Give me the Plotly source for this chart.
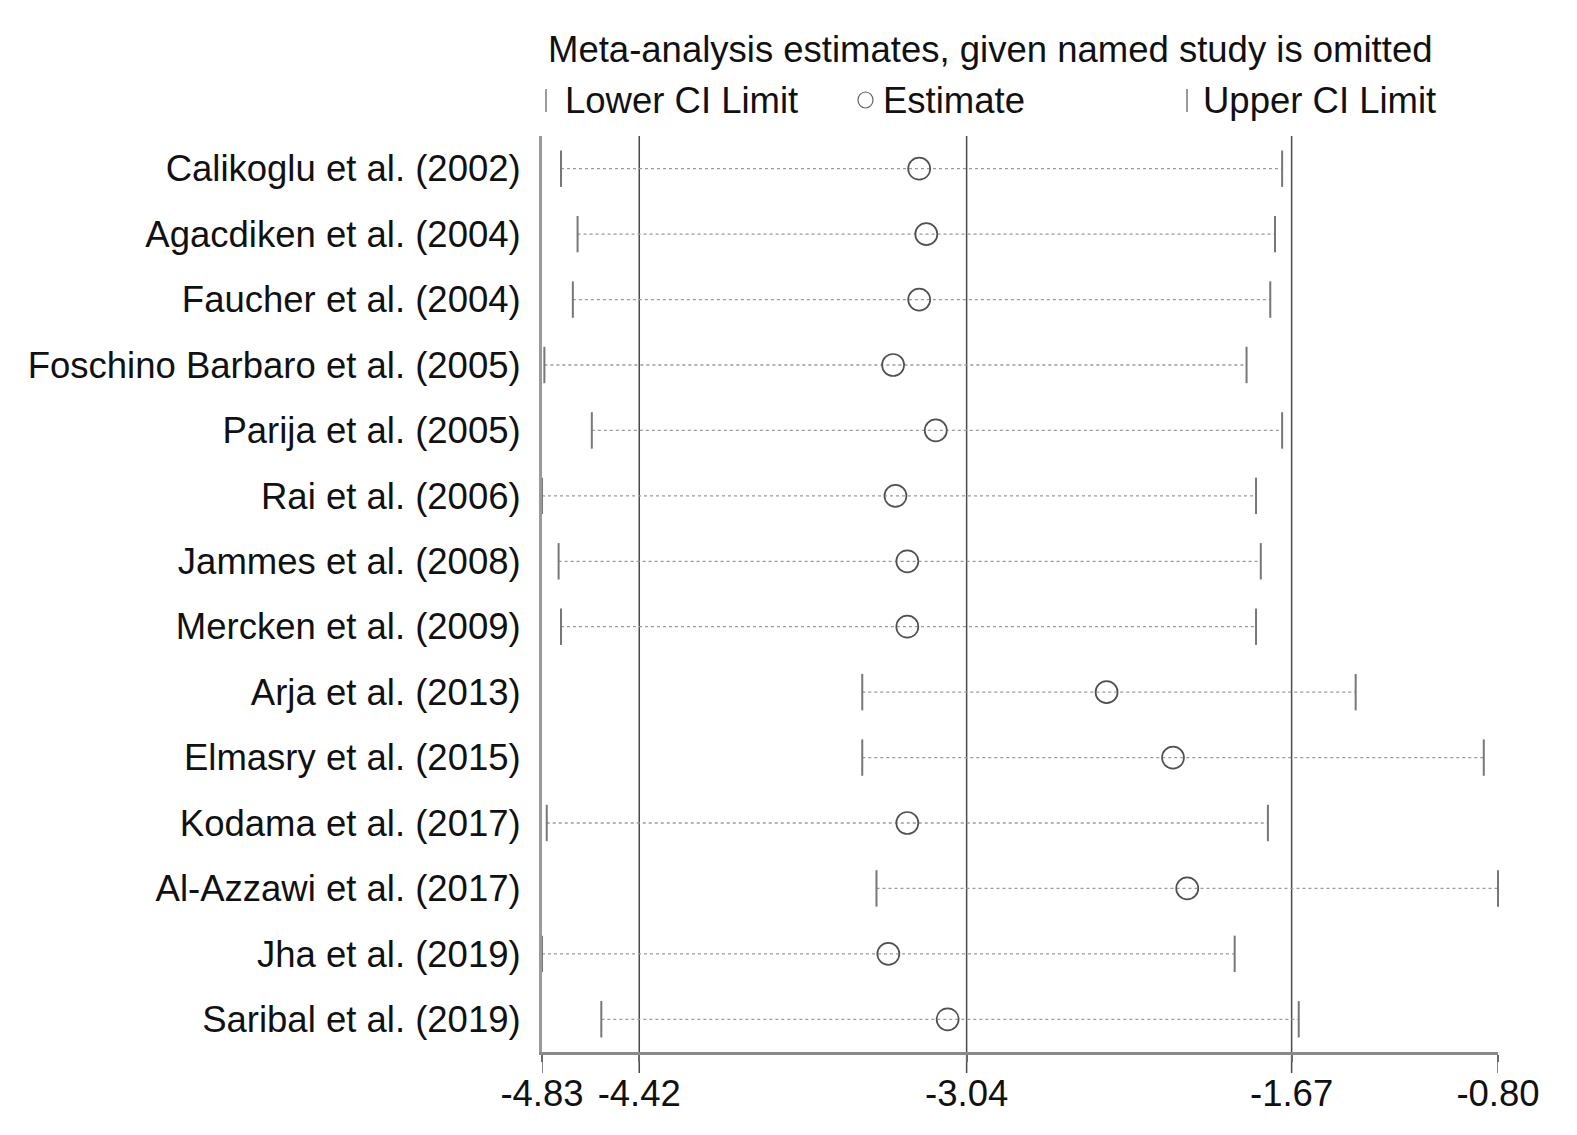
import plotly.graph_objects as go

studies = [
    "Calikoglu et al. (2002)", "Agacdiken et al. (2004)", "Faucher et al. (2004)",
    "Foschino Barbaro et al. (2005)", "Parija et al. (2005)", "Rai et al. (2006)",
    "Jammes et al. (2008)", "Mercken et al. (2009)", "Arja et al. (2013)",
    "Elmasry et al. (2015)", "Kodama et al. (2017)", "Al-Azzawi et al. (2017)",
    "Jha et al. (2019)", "Saribal et al. (2019)",
]
lower = [-4.75, -4.68, -4.70, -4.82, -4.62, -4.83, -4.76, -4.75, -3.48, -3.48, -4.81, -3.42, -4.83, -4.58]
estimate = [-3.24, -3.21, -3.24, -3.35, -3.17, -3.34, -3.29, -3.29, -2.45, -2.17, -3.29, -2.11, -3.37, -3.12]
upper = [-1.71, -1.74, -1.76, -1.86, -1.71, -1.82, -1.80, -1.82, -1.40, -0.86, -1.77, -0.80, -1.91, -1.64]
ref_lines = [-4.42, -3.04, -1.67]
tick_vals = [-4.83, -4.42, -3.04, -1.67, -0.80]
tick_text = ["-4.83", "-4.42", "-3.04", "-1.67", "-0.80"]

FONT = "Liberation Sans, Arial, sans-serif"
FS = 36.5
W, H = 1561, 1119          # page has an 8px body margin
L, R, T, B = 534, 71, 128, 75
pw, ph = W - L - R, H - T - B
PX0, PY1 = 8 + L, 8 + H - B  # page coords of plot left / bottom

fig = go.Figure()

# dotted CI lines
for s, lo, up in zip(studies, lower, upper):
    fig.add_trace(go.Scatter(
        x=[lo, up], y=[s, s], mode="lines",
        line=dict(color="#9a9a9a", width=1.3, dash="dot"),
        hoverinfo="skip", showlegend=False, cliponaxis=False))

fig.add_trace(go.Scatter(
    x=lower, y=studies, mode="markers", name="Lower CI Limit",
    marker=dict(symbol="line-ns", size=26, line=dict(color="#777777", width=2)),
    showlegend=False, cliponaxis=False))
fig.add_trace(go.Scatter(
    x=upper, y=studies, mode="markers", name="Upper CI Limit",
    marker=dict(symbol="line-ns", size=26, line=dict(color="#777777", width=2)),
    showlegend=False, cliponaxis=False))
fig.add_trace(go.Scatter(
    x=estimate, y=studies, mode="markers", name="Estimate",
    marker=dict(symbol="circle-open", size=22, color="#505050", line=dict(color="#505050", width=1.7)),
    showlegend=False, cliponaxis=False))

TICK = 21 / ph
shapes = []
for v in ref_lines:
    shapes.append(dict(type="line", xref="x", yref="paper", x0=v, x1=v, y0=-TICK, y1=1,
                       line=dict(color="#4a4a4a", width=1.5), layer="below"))
for v in (tick_vals[0], tick_vals[-1]):
    shapes.append(dict(type="line", xref="x", yref="paper", x0=v, x1=v, y0=-TICK, y1=0,
                       line=dict(color="#8a8a8a", width=2), layer="below"))

def px_x(p):
    return (p - PX0) / pw

def px_y(p):
    return (PY1 - p) / ph

tf = dict(family=FONT, size=FS, color="#111111")
annotations = [
    dict(text="Meta-analysis estimates, given named study is omitted", xref="paper", yref="paper",
         x=px_x(990), y=px_y(50), showarrow=False, xanchor="center", yanchor="middle", font=tf),
    dict(text="Lower CI Limit", xref="paper", yref="paper", x=px_x(563), y=px_y(100),
         showarrow=False, xanchor="left", yanchor="middle", font=tf),
    dict(text="Estimate", xref="paper", yref="paper", x=px_x(881), y=px_y(100),
         showarrow=False, xanchor="left", yanchor="middle", font=tf),
    dict(text="Upper CI Limit", xref="paper", yref="paper", x=px_x(1201), y=px_y(100),
         showarrow=False, xanchor="left", yanchor="middle", font=tf),
]

# legend glyphs
shapes.append(dict(type="line", xref="paper", yref="paper", x0=px_x(546), x1=px_x(546),
                   y0=px_y(89), y1=px_y(112), line=dict(color="#7a7a7a", width=1.5)))
shapes.append(dict(type="line", xref="paper", yref="paper", x0=px_x(1187), x1=px_x(1187),
                   y0=px_y(89), y1=px_y(112), line=dict(color="#7a7a7a", width=1.5)))
shapes.append(dict(type="circle", xref="paper", yref="paper", x0=px_x(858), x1=px_x(873),
                   y0=px_y(108), y1=px_y(92), line=dict(color="#666666", width=1.2)))

fig.update_layout(
    width=W, height=H,
    margin=dict(l=L, r=R, t=T, b=B, pad=0),
    paper_bgcolor="white", plot_bgcolor="white",
    shapes=shapes, annotations=annotations,
    font=dict(family=FONT, size=FS, color="#111111"),
    xaxis=dict(range=[-4.83, -0.80], tickvals=tick_vals, ticktext=tick_text,
               showgrid=False, zeroline=False, showline=True, linecolor="#8a8a8a", linewidth=2.5,
               ticks="outside", ticklen=7, tickwidth=1.5, tickcolor="#6a6a6a",
               tickfont=tf),
    yaxis=dict(categoryorder="array", categoryarray=studies, range=[13.5, -0.5],
               showgrid=False, zeroline=False, showline=True, linecolor="#9a9a9a", linewidth=3,
               ticks="", ticklabelstandoff=11,
               tickfont=tf),
)

fig.write_html("out.html")
